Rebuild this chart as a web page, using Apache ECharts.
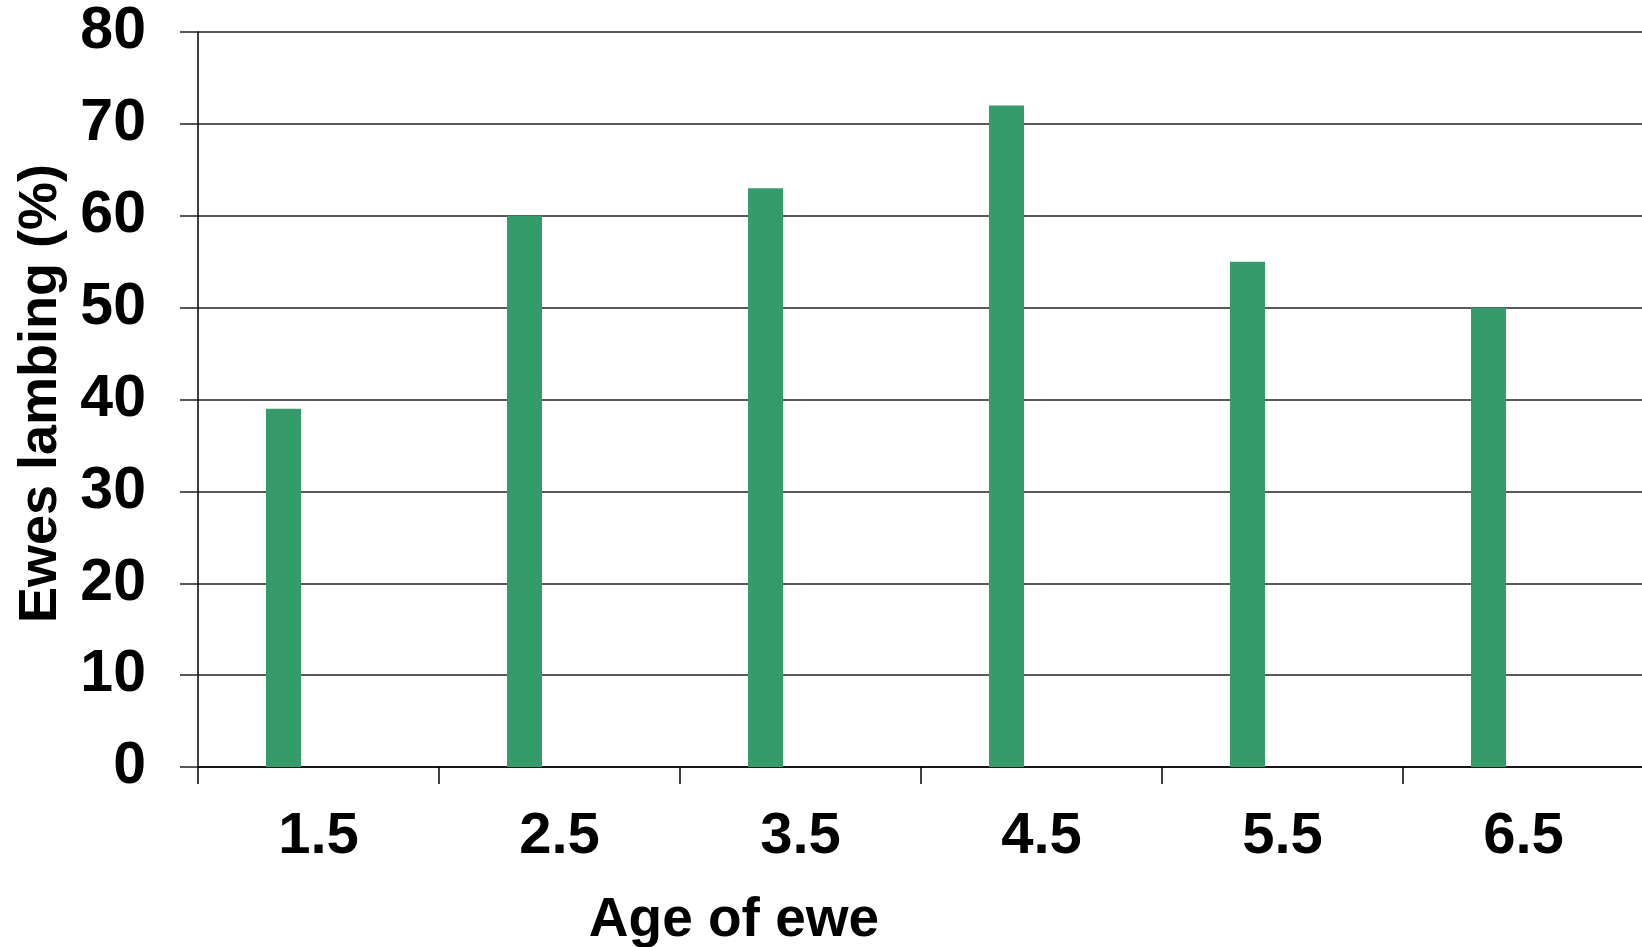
<!DOCTYPE html>
<html>
<head>
<meta charset="utf-8">
<script src="https://cdn.jsdelivr.net/npm/echarts@6/dist/echarts.min.js"></script>
<style>
html,body{margin:0;padding:0;background:#fff;}
#chart{width:1642px;height:947px;}
</style>
</head>
<body>
<div id="chart"></div>
<script>
const categories = ['1.5', '2.5', '3.5', '4.5', '5.5', '6.5'];
const ewesLambing = [39, 60, 63, 72, 55, 50];
const emptySeries = [null, null, null, null, null, null];
const yTicks = { min: 0, max: 80, interval: 10 };
const xAxisTitle = 'Age of ewe';
const yAxisTitle = 'Ewes lambing (%)';

const FONT = '"Liberation Sans", Arial, sans-serif';
const chart = echarts.init(document.getElementById('chart'), null, { renderer: 'canvas' });
chart.setOption({
  animation: false,
  backgroundColor: '#ffffff',
  grid: { left: 198, top: 32, width: 1446, height: 735, containLabel: false, outerBoundsMode: 'none' },
  xAxis: {
    type: 'category',
    data: categories,
    boundaryGap: true,
    axisLine: { show: true, lineStyle: { color: '#000', width: 1.5 } },
    axisTick: { show: true, length: 17, lineStyle: { color: '#000', width: 1.5 } },
    axisLabel: { margin: 41, color: '#000', fontFamily: FONT, fontWeight: 'bold', fontSize: 58 },
    splitLine: { show: false },
    name: xAxisTitle,
    nameLocation: 'middle',
    nameGap: 126,
    nameTextStyle: { color: '#000', fontFamily: FONT, fontWeight: 'bold', fontSize: 55, padding: [0, 374, 0, 0] }
  },
  yAxis: {
    type: 'value',
    min: yTicks.min,
    max: yTicks.max,
    interval: yTicks.interval,
    axisLine: { show: true, lineStyle: { color: '#000', width: 1.5 } },
    axisTick: { show: true, length: 18, lineStyle: { color: '#222', width: 1.5 } },
    axisLabel: { margin: 52, color: '#000', fontFamily: FONT, fontWeight: 'bold', fontSize: 59 },
    splitLine: { show: true, lineStyle: { color: '#222', width: 1.5 } },
    name: yAxisTitle,
    nameLocation: 'middle',
    nameGap: 130,
    nameTextStyle: { color: '#000', fontFamily: FONT, fontWeight: 'bold', fontSize: 54, padding: [0, 0, 0, 12] }
  },
  series: [
    {
      type: 'bar',
      data: ewesLambing,
      barWidth: 35,
      barGap: '100%',
      itemStyle: { color: '#359B6A' }
    },
    {
      type: 'bar',
      data: emptySeries,
      barWidth: 35,
      itemStyle: { color: '#359B6A' }
    }
  ]
});
</script>
</body>
</html>
